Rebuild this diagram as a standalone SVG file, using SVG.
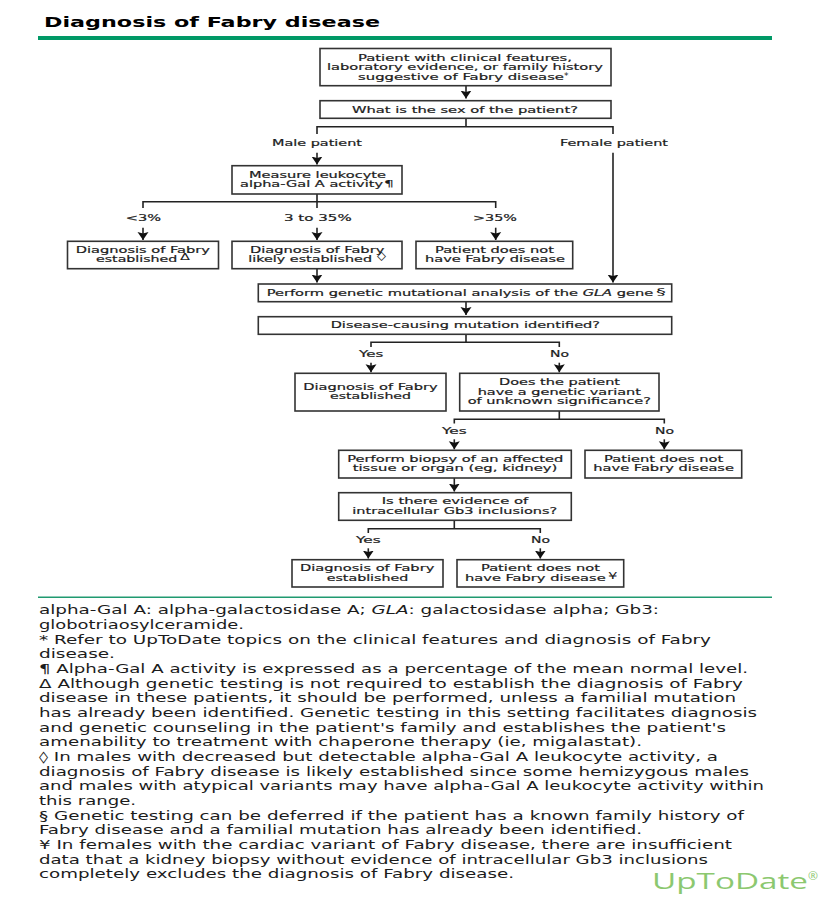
<svg xmlns="http://www.w3.org/2000/svg" width="824" height="898" viewBox="0 0 824 898">
<style>
text{font-family:"DejaVu Sans",Verdana,sans-serif;fill:#1c1c1c}
.t{font-size:14px;font-weight:bold;fill:#000}
.f{font-size:9.2px;stroke:#1c1c1c;stroke-width:.2}
.b{font-size:11.8px}
.s{font-size:9px}
rect{fill:#fff;stroke:#333;stroke-width:1.6}
#connectors path{fill:none;stroke:#222;stroke-width:1.6}
.logo{font-family:"Open Sans","Liberation Sans",sans-serif;font-size:22px;fill:#8cc870}
</style>
<defs>
<marker id="ah" markerUnits="userSpaceOnUse" markerWidth="9" markerHeight="12" refX="8" refY="6" orient="auto">
<path d="M0 .5L8 6L0 11.5L1.5 6Z" fill="#111"/>
</marker>
</defs>
<rect width="824" height="898" style="fill:#fff;stroke:none"/>
<g id="header">
<text class="t" x="44" y="27" textLength="336" lengthAdjust="spacingAndGlyphs">Diagnosis of Fabry disease</text>
<path d="M38 36H772V40H38Z" fill="#009966"/>
</g>
<g id="connectors">
<path d="M466 85.7V98.5" marker-end="url(#ah)"/>
<path d="M466 118.3V126.7M317 134V126.7H613V134"/>
<path d="M317 152.7V164.5" marker-end="url(#ah)"/>
<path d="M613 152.7V282.5" marker-end="url(#ah)"/>
<path d="M317 194V208M143 208V201.7H495.7V208"/>
<path d="M143 227.7V240" marker-end="url(#ah)"/>
<path d="M317 227.7V240" marker-end="url(#ah)"/>
<path d="M495.7 227.7V240" marker-end="url(#ah)"/>
<path d="M317 268.7V282.5" marker-end="url(#ah)"/>
<path d="M466 301.7V315" marker-end="url(#ah)"/>
<path d="M466 334.3V342.3M371 347V342.3H559.3V347"/>
<path d="M371 362.7V372.3" marker-end="url(#ah)"/>
<path d="M559.3 362.7V372.3" marker-end="url(#ah)"/>
<path d="M559.3 411V419.3M454.3 423.5V419.3H664.3V423.5"/>
<path d="M454.3 439.3V449.3" marker-end="url(#ah)"/>
<path d="M664.3 439.3V449.3" marker-end="url(#ah)"/>
<path d="M454.3 478V491.5" marker-end="url(#ah)"/>
<path d="M454.3 520.3V528.7M368.3 533V528.7H540.3V533"/>
<path d="M368.3 548.3V558.5" marker-end="url(#ah)"/>
<path d="M540.3 548.3V558.5" marker-end="url(#ah)"/>
</g>
<g id="n-start"><rect x="320" y="48.5" width="291" height="37.2"/>
<text class="f" x="358" y="60.5" textLength="214" lengthAdjust="spacingAndGlyphs">Patient with clinical features,</text>
<text class="f" x="327" y="70" textLength="276" lengthAdjust="spacingAndGlyphs">laboratory evidence, or family history</text>
<text class="f" x="358" y="79.7" textLength="206" lengthAdjust="spacingAndGlyphs">suggestive of Fabry disease</text>
<text class="s" x="564" y="79">*</text></g>
<g id="n-sex"><rect x="320" y="100.7" width="291" height="17.6"/>
<text class="f" x="352" y="112.5" textLength="226" lengthAdjust="spacingAndGlyphs">What is the sex of the patient?</text></g>
<g id="l-male"><text class="f" x="272" y="145.7" textLength="90" lengthAdjust="spacingAndGlyphs">Male patient</text></g>
<g id="l-female"><text class="f" x="560" y="145.5" textLength="108" lengthAdjust="spacingAndGlyphs">Female patient</text></g>
<g id="n-measure"><rect x="232" y="165.7" width="170" height="28.3"/>
<text class="f" x="249" y="177.5" textLength="137" lengthAdjust="spacingAndGlyphs">Measure leukocyte</text>
<text class="f" x="240" y="187" textLength="143" lengthAdjust="spacingAndGlyphs">alpha-Gal A activity</text>
<text class="s" x="384" y="187" textLength="10" lengthAdjust="spacingAndGlyphs">¶</text></g>
<g id="l-lt3"><text class="f" x="125.7" y="220.7" textLength="35.3" lengthAdjust="spacingAndGlyphs">&lt;3%</text></g>
<g id="l-3to35"><text class="f" x="284" y="220.7" textLength="67.7" lengthAdjust="spacingAndGlyphs">3 to 35%</text></g>
<g id="l-gt35"><text class="f" x="473" y="220.7" textLength="44" lengthAdjust="spacingAndGlyphs">&gt;35%</text></g>
<g id="n-estab1"><rect x="67.5" y="241.3" width="151" height="27.4"/>
<text class="f" x="75.7" y="252.5" textLength="134.3" lengthAdjust="spacingAndGlyphs">Diagnosis of Fabry</text>
<text class="f" x="96" y="262" textLength="81.3" lengthAdjust="spacingAndGlyphs">established</text>
<text class="s" x="180" y="260" textLength="10" lengthAdjust="spacingAndGlyphs">Δ</text></g>
<g id="n-likely"><rect x="232" y="241.3" width="170" height="27.4"/>
<text class="f" x="250" y="252.5" textLength="134.3" lengthAdjust="spacingAndGlyphs">Diagnosis of Fabry</text>
<text class="f" x="248.3" y="262" textLength="123.7" lengthAdjust="spacingAndGlyphs">likely established</text>
<text class="s" x="377" y="259" textLength="9" lengthAdjust="spacingAndGlyphs">◊</text></g>
<g id="n-nofabry1"><rect x="416" y="241.3" width="156.7" height="27.4"/>
<text class="f" x="435" y="252.5" textLength="119" lengthAdjust="spacingAndGlyphs">Patient does not</text>
<text class="f" x="425" y="262" textLength="140" lengthAdjust="spacingAndGlyphs">have Fabry disease</text></g>
<g id="n-genetic"><rect x="258.3" y="284" width="413.4" height="17.7"/>
<text class="f" x="266.7" y="295.7" textLength="386.6" lengthAdjust="spacingAndGlyphs">Perform genetic mutational analysis of the <tspan font-style="italic">GLA</tspan> gene</text>
<text class="s" x="656" y="294.5" textLength="10" lengthAdjust="spacingAndGlyphs">§</text></g>
<g id="n-mutation"><rect x="258.3" y="316.7" width="413.4" height="17.6"/>
<text class="f" x="330.7" y="327.7" textLength="269.3" lengthAdjust="spacingAndGlyphs">Disease-causing mutation identified?</text></g>
<g id="l-yes1"><text class="f" x="359" y="357" textLength="24.3" lengthAdjust="spacingAndGlyphs">Yes</text></g>
<g id="l-no1"><text class="f" x="550" y="357" textLength="19" lengthAdjust="spacingAndGlyphs">No</text></g>
<g id="n-estab2"><rect x="295" y="373.3" width="151" height="37.7"/>
<text class="f" x="303.3" y="389.7" textLength="134.4" lengthAdjust="spacingAndGlyphs">Diagnosis of Fabry</text>
<text class="f" x="330" y="399.3" textLength="81" lengthAdjust="spacingAndGlyphs">established</text></g>
<g id="n-variant"><rect x="459.7" y="373.3" width="199.3" height="37.7"/>
<text class="f" x="499" y="385" textLength="121" lengthAdjust="spacingAndGlyphs">Does the patient</text>
<text class="f" x="477.7" y="394.7" textLength="163.3" lengthAdjust="spacingAndGlyphs">have a genetic variant</text>
<text class="f" x="467.7" y="404.3" textLength="183.3" lengthAdjust="spacingAndGlyphs">of unknown significance?</text></g>
<g id="l-yes2"><text class="f" x="442" y="433.7" textLength="24.7" lengthAdjust="spacingAndGlyphs">Yes</text></g>
<g id="l-no2"><text class="f" x="655" y="433.7" textLength="19" lengthAdjust="spacingAndGlyphs">No</text></g>
<g id="n-biopsy"><rect x="338.7" y="450.3" width="232.6" height="27.7"/>
<text class="f" x="347.3" y="461.7" textLength="216" lengthAdjust="spacingAndGlyphs">Perform biopsy of an affected</text>
<text class="f" x="352.7" y="471.3" textLength="204.6" lengthAdjust="spacingAndGlyphs">tissue or organ (eg, kidney)</text></g>
<g id="n-nofabry2"><rect x="585" y="450.3" width="156.7" height="27.7"/>
<text class="f" x="604" y="461.7" textLength="119.3" lengthAdjust="spacingAndGlyphs">Patient does not</text>
<text class="f" x="593.3" y="471.3" textLength="140.7" lengthAdjust="spacingAndGlyphs">have Fabry disease</text></g>
<g id="n-gb3"><rect x="338.7" y="492.7" width="232.6" height="27.6"/>
<text class="f" x="381.7" y="504" textLength="146.6" lengthAdjust="spacingAndGlyphs">Is there evidence of</text>
<text class="f" x="352.3" y="513.7" textLength="205" lengthAdjust="spacingAndGlyphs">intracellular Gb3 inclusions?</text></g>
<g id="l-yes3"><text class="f" x="356" y="543.3" textLength="24.7" lengthAdjust="spacingAndGlyphs">Yes</text></g>
<g id="l-no3"><text class="f" x="531" y="543.3" textLength="19" lengthAdjust="spacingAndGlyphs">No</text></g>
<g id="n-estab3"><rect x="292" y="559.7" width="151" height="27.3"/>
<text class="f" x="300" y="571" textLength="134.3" lengthAdjust="spacingAndGlyphs">Diagnosis of Fabry</text>
<text class="f" x="326.7" y="580.7" textLength="81.6" lengthAdjust="spacingAndGlyphs">established</text></g>
<g id="n-nofabry3"><rect x="457" y="559.7" width="166.7" height="27.3"/>
<text class="f" x="481" y="571" textLength="119" lengthAdjust="spacingAndGlyphs">Patient does not</text>
<text class="f" x="465" y="580.7" textLength="140.7" lengthAdjust="spacingAndGlyphs">have Fabry disease</text>
<text class="s" x="608" y="578.5" textLength="9.5" lengthAdjust="spacingAndGlyphs">¥</text></g>
<g id="footnotes">
<path d="M38 596.5H772V598H38Z" fill="#209a70"/>
<text class="b" x="39" y="614.3" textLength="620" lengthAdjust="spacingAndGlyphs">alpha-Gal A: alpha-galactosidase A; <tspan font-style="italic">GLA</tspan>: galactosidase alpha; Gb3:</text>
<text class="b" x="39" y="629" textLength="205" lengthAdjust="spacingAndGlyphs">globotriaosylceramide.</text>
<text class="b" x="39" y="643.7" textLength="672" lengthAdjust="spacingAndGlyphs">* Refer to UpToDate topics on the clinical features and diagnosis of Fabry</text>
<text class="b" x="39" y="658.3" textLength="76" lengthAdjust="spacingAndGlyphs">disease.</text>
<text class="b" x="39" y="673" textLength="709" lengthAdjust="spacingAndGlyphs">¶ Alpha-Gal A activity is expressed as a percentage of the mean normal level.</text>
<text class="b" x="39" y="687.7" textLength="704" lengthAdjust="spacingAndGlyphs">Δ Although genetic testing is not required to establish the diagnosis of Fabry</text>
<text class="b" x="39" y="702.3" textLength="697" lengthAdjust="spacingAndGlyphs">disease in these patients, it should be performed, unless a familial mutation</text>
<text class="b" x="39" y="717" textLength="718" lengthAdjust="spacingAndGlyphs">has already been identified. Genetic testing in this setting facilitates diagnosis</text>
<text class="b" x="39" y="731.7" textLength="687" lengthAdjust="spacingAndGlyphs">and genetic counseling in the patient's family and establishes the patient's</text>
<text class="b" x="39" y="746.3" textLength="603" lengthAdjust="spacingAndGlyphs">amenability to treatment with chaperone therapy (ie, migalastat).</text>
<text class="b" x="39" y="761" textLength="679" lengthAdjust="spacingAndGlyphs">◊ In males with decreased but detectable alpha-Gal A leukocyte activity, a</text>
<text class="b" x="39" y="775.7" textLength="710" lengthAdjust="spacingAndGlyphs">diagnosis of Fabry disease is likely established since some hemizygous males</text>
<text class="b" x="39" y="790.3" textLength="725" lengthAdjust="spacingAndGlyphs">and males with atypical variants may have alpha-Gal A leukocyte activity within</text>
<text class="b" x="39" y="805" textLength="97" lengthAdjust="spacingAndGlyphs">this range.</text>
<text class="b" x="39" y="819.7" textLength="705" lengthAdjust="spacingAndGlyphs">§ Genetic testing can be deferred if the patient has a known family history of</text>
<text class="b" x="39" y="834.3" textLength="603" lengthAdjust="spacingAndGlyphs">Fabry disease and a familial mutation has already been identified.</text>
<text class="b" x="39" y="849" textLength="693" lengthAdjust="spacingAndGlyphs">¥ In females with the cardiac variant of Fabry disease, there are insufficient</text>
<text class="b" x="39" y="863.7" textLength="669" lengthAdjust="spacingAndGlyphs">data that a kidney biopsy without evidence of intracellular Gb3 inclusions</text>
<text class="b" x="39" y="878.3" textLength="475" lengthAdjust="spacingAndGlyphs">completely excludes the diagnosis of Fabry disease.</text>
</g>
<g id="logo">
<text class="logo" x="652" y="888.5" textLength="156" lengthAdjust="spacingAndGlyphs">UpToDate</text>
<text class="logo" x="808" y="880" style="font-size:10px" textLength="10" lengthAdjust="spacingAndGlyphs">®</text>
</g>
</svg>
